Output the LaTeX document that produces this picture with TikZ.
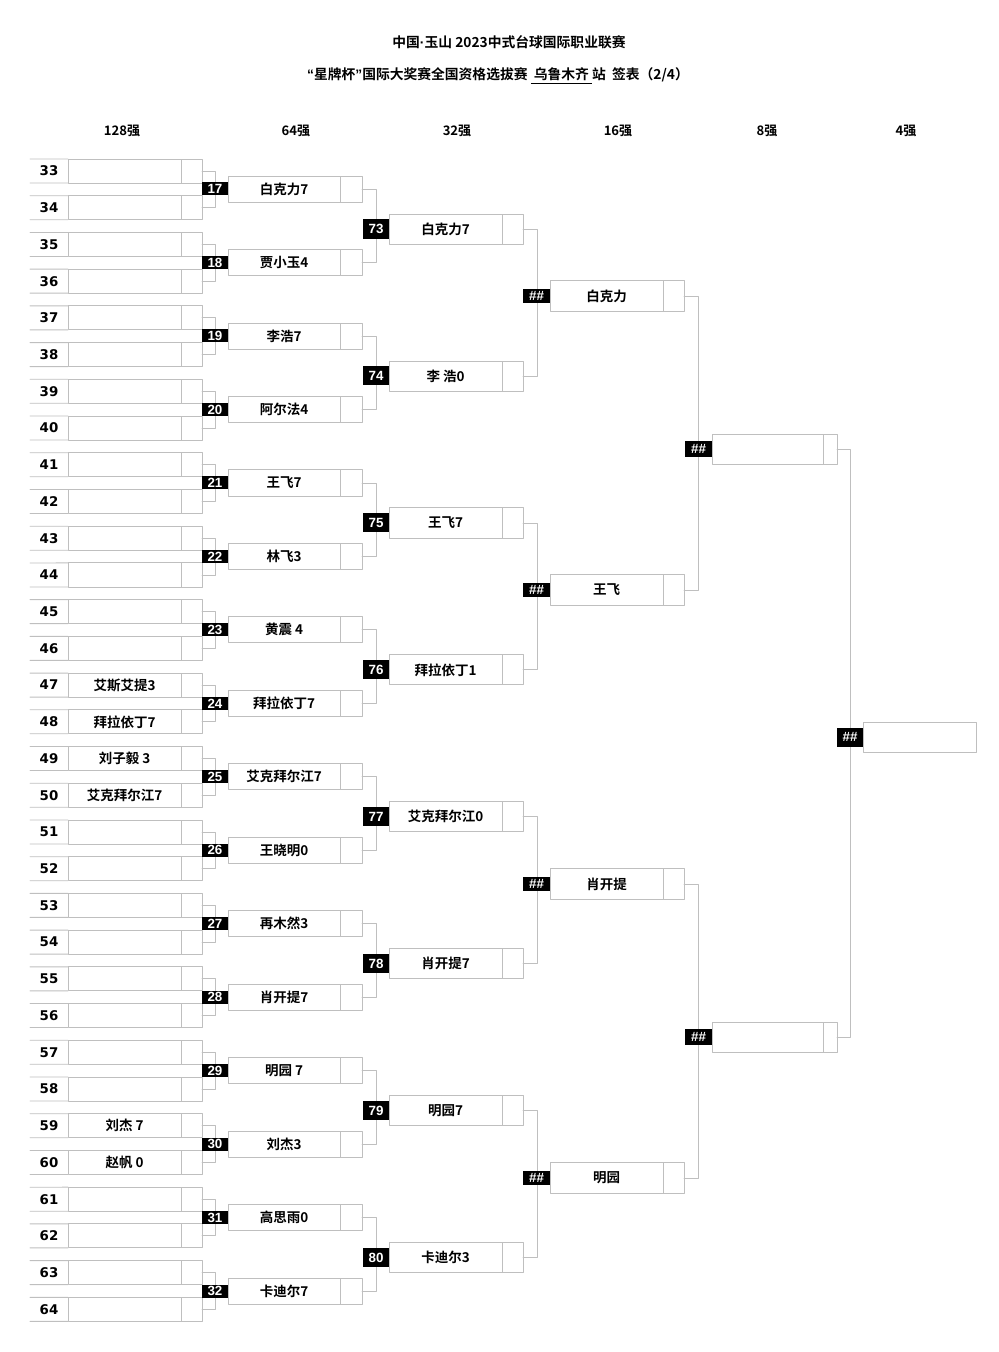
\documentclass[tikz,border=0pt]{standalone}
\usepackage{fontspec}
\setmainfont{DejaVu Sans}
\newfontfamily\cjk{Noto Sans CJK SC}[BoldFont={Noto Sans CJK SC Bold}]
\newfontfamily\tagsans{Liberation Sans}

\newcommand\px{0.7113pt}

\tikzset{
  gridline/.style={draw=gray!50, line width=0.6pt},
  cell/.style={gridline, rectangle, inner sep=0pt, outer sep=0pt, anchor=west, minimum height=#1*\px},
  namecell/.style={cell=#1, font=\cjk\bfseries\fontsize{9.6}{10}\selectfont},
  tagbox/.style={fill=black, text=white, inner sep=0pt, outer sep=0pt, anchor=east, minimum height=#1*\px, font=\tagsans\bfseries\fontsize{9.5}{9}\selectfont},
  seed/.style={font=\bfseries\fontsize{9.5}{10}\selectfont},
  header/.style={font=\cjk\bfseries\fontsize{9.3}{10}\selectfont},
  titletext/.style={font=\cjk\bfseries\fontsize{9.8}{11}\selectfont},
}

\begin{document}
\begin{tikzpicture}[x=0.025cm, y=-0.025cm, line cap=round, line join=round]
  \useasboundingbox (0,0) rectangle (998,1352);

  % Title
  \node[titletext] (title) at (509,42) {中国{\tagsans\bfseries ·}玉山 2023中式台球国际职业联赛};
  \node[titletext] (subtitle) at (498,76) {{\tagsans\bfseries “}星牌杯{\tagsans\bfseries ”}国际大奖赛全国资格选拔赛 \underline{\ 乌鲁木齐\ }站\ \ 签表（2/4）};

  % Round headers
  \foreach \x/\t [count=\c] in {122/128强,296/64强,457/32强,618/16强,767/8强,906/4强}
    \node[header] (h\c) at (\x,131) {\t};

  % 128 rows
  \foreach \n/\nm in {33/{},34/{},35/{},36/{},37/{},38/{},39/{},40/{},41/{},42/{},43/{},44/{},45/{},46/{},
                      47/艾斯艾提3,48/拜拉依丁7,49/刘子毅 3,50/艾克拜尔江7,51/{},52/{},53/{},54/{},
                      55/{},56/{},57/{},58/{},59/刘杰 7,60/赵帆 0,61/{},62/{},63/{},64/{}} {
    \pgfmathsetmacro\y{171+36.72*(\n-33)}
    \node[seed] (n\n) at (49,\y) {\n};
    \node[namecell=24, minimum width=113*\px] (a\n) at (68,\y) {\nm};
    \node[cell=24, minimum width=21*\px] (s\n) at (a\n.east) {};
    \draw[gridline] (30,\y-12) -- (a\n.north west) (30,\y+12) -- (a\n.south west);
  }
  \foreach \n in {33,35,...,63} {
    \pgfmathtruncatemacro\m{\n+1}
    \draw[gridline] (s\n.east) -- ++(13,0) |- (s\m.east);
  }

  % 64 boxes
  \foreach \nm [count=\j from 0] in {白克力7,贾小玉4,李浩7,阿尔法4,王飞7,林飞3,黄震 4,拜拉依丁7,
                                     艾克拜尔江7,王晓明0,再木然3,肖开提7,明园 7,刘杰3,高思雨0,卡迪尔7} {
    \pgfmathsetmacro\y{189+73.48*\j}
    \pgfmathtruncatemacro\k{17+\j}
    \node[namecell=26, minimum width=112*\px] (b\k) at (228,\y) {\nm};
    \node[cell=26, minimum width=22*\px] (bs\k) at (b\k.east) {};
    \node[tagbox=13, minimum width=26*\px] (tb\k) at (b\k.west) {\k};
  }
  \foreach \k in {17,19,...,31} {
    \pgfmathtruncatemacro\m{\k+1}
    \draw[gridline] (bs\k.east) -- ++(14,0) |- (bs\m.east);
  }

  % 32 boxes
  \foreach \nm [count=\j from 0] in {白克力7,李 浩0,王飞7,拜拉依丁1,艾克拜尔江0,肖开提7,明园7,卡迪尔3} {
    \pgfmathsetmacro\y{229+146.96*\j}
    \pgfmathtruncatemacro\k{73+\j}
    \node[namecell=30, minimum width=113*\px] (c\k) at (389,\y) {\nm};
    \node[cell=30, minimum width=21*\px] (cs\k) at (c\k.east) {};
    \node[tagbox=19, minimum width=26*\px] (tc\k) at (c\k.west) {\k};
  }
  \foreach \k in {73,75,77,79} {
    \pgfmathtruncatemacro\m{\k+1}
    \draw[gridline] (cs\k.east) -- ++(14,0) |- (cs\m.east);
  }

  % 16 boxes
  \foreach \nm [count=\j from 0] in {白克力,王飞,肖开提,明园} {
    \pgfmathsetmacro\y{296+294*\j}
    \node[namecell=31, minimum width=113*\px] (d\j) at (550,\y) {\nm};
    \node[cell=31, minimum width=21*\px] (ds\j) at (d\j.east) {};
    \node[tagbox=14, minimum width=27*\px] (td\j) at (d\j.west) {\#\#};
  }
  \draw[gridline] (ds0.east) -- ++(14,0) |- (ds1.east);
  \draw[gridline] (ds2.east) -- ++(14,0) |- (ds3.east);

  % 8 boxes
  \foreach \j in {0,1} {
    \pgfmathsetmacro\y{449+588*\j}
    \node[namecell=30, minimum width=111*\px] (e\j) at (712,\y) {};
    \node[cell=30, minimum width=14*\px] (es\j) at (e\j.east) {};
    \node[tagbox=16, minimum width=27*\px] (te\j) at (e\j.west) {\#\#};
  }
  \draw[gridline] (es0.east) -- ++(13,0) |- (es1.east);

  % 4 box
  \node[namecell=30, minimum width=113*\px] (f) at (863,737) {};
  \node[tagbox=19, minimum width=26*\px] (tf) at (f.west) {\#\#};

\end{tikzpicture}
\end{document}
